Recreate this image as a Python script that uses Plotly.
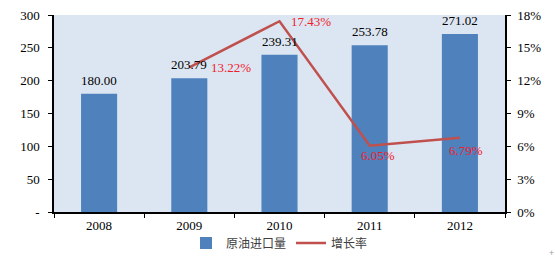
import plotly.graph_objects as go

years = [2008, 2009, 2010, 2011, 2012]
imports = [180.00, 203.79, 239.31, 253.78, 271.02]
growth_years = [2009, 2010, 2011, 2012]
growth = [13.22, 17.43, 6.05, 6.79]
left_ticks = [0, 50, 100, 150, 200, 250, 300]
left_labels = ["-", "50", "100", "150", "200", "250", "300"]
right_ticks = [0, 3, 6, 9, 12, 15, 18]
right_labels = ["0%", "3%", "6%", "9%", "12%", "15%", "18%"]
category_bounds = [2007.5, 2008.5, 2009.5, 2010.5, 2011.5, 2012.5]

serif = "Liberation Serif, Times New Roman, serif"
cjk = "Noto Sans CJK SC, sans-serif"

fig = go.Figure()
fig.add_trace(go.Bar(
    x=years, y=imports, name="原油进口量",
    marker=dict(color="#4F81BD", line=dict(width=0)),
    width=0.4,
    hoverinfo="x+y",
))
fig.add_trace(go.Scatter(
    x=growth_years, y=growth, name="增长率", yaxis="y2",
    mode="lines", line=dict(color="#C0504D", width=2.5),
))

for bx, bv in zip(years, imports):
    fig.add_annotation(
        x=bx, y=bv, xref="x", yref="y", text=f"{bv:.2f}", showarrow=False,
        yanchor="bottom", yshift=4,
        font=dict(family=serif, size=13, color="black"),
    )

offsets = [(42, 0), (31, 0), (8, -10), (6, -13)]
for gx, gv, (dx, dy) in zip(growth_years, growth, offsets):
    fig.add_annotation(
        x=gx, y=gv, xref="x", yref="y2", text=f"{gv:.2f}%", showarrow=False,
        xshift=dx, yshift=dy,
        font=dict(family=serif, size=13, color="#F0202A"),
    )

fig.add_annotation(x=1.104, y=-0.208, xref="paper", yref="paper", text="+",
                   showarrow=False, xanchor="center", yanchor="middle",
                   font=dict(size=9, color="#999"))

fig.update_layout(
    width=555, height=258,
    margin=dict(l=54, r=50, t=15, b=46, autoexpand=False),
    paper_bgcolor="white", plot_bgcolor="#DCE6F2",
    showlegend=True,
    legend=dict(orientation="h", x=0.5, xanchor="center", yref="container",
                y=0.058, yanchor="middle",
                font=dict(family=cjk, size=12, color="#404040"),
                itemwidth=30, bgcolor="rgba(0,0,0,0)"),
    xaxis=dict(
        range=[2007.5, 2012.5], tickvals=years, ticktext=[str(y) for y in years],
        showgrid=False, showline=True, linecolor="black", linewidth=1.5,
        ticks="", tickfont=dict(family=serif, size=13, color="black"),
        ticklabelstandoff=1,
        zeroline=False, automargin=False,
        minor=dict(tickvals=category_bounds, ticks="outside", ticklen=4,
                   tickcolor="black", showgrid=False),
    ),
    yaxis=dict(
        range=[0, 300], tickvals=left_ticks, ticktext=left_labels,
        showgrid=False, showline=True, linecolor="black", linewidth=1.5,
        ticks="outside", ticklen=4, tickcolor="black",
        tickfont=dict(family=serif, size=13, color="black"),
        ticklabelstandoff=6, automargin=False,
        zeroline=False,
    ),
    yaxis2=dict(
        overlaying="y", side="right", range=[0, 18],
        tickvals=right_ticks, ticktext=right_labels,
        showgrid=False, showline=True, linecolor="black", linewidth=1.5,
        ticks="outside", ticklen=4, tickcolor="black",
        tickfont=dict(family=serif, size=13, color="black"),
        ticklabelstandoff=4, automargin=False,
        zeroline=False,
    ),
)

fig.write_html("out.html")
